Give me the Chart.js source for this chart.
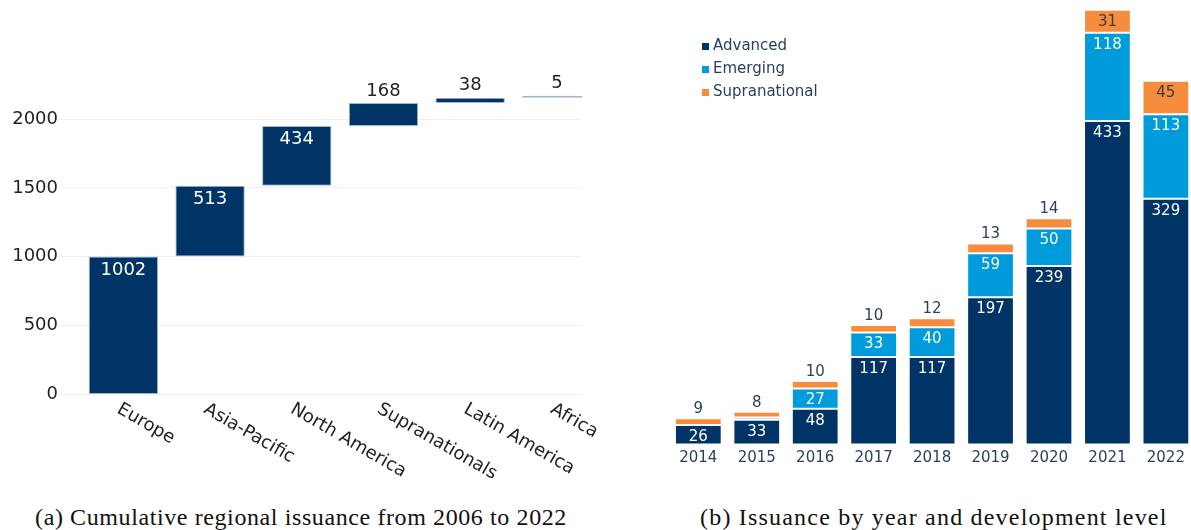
<!DOCTYPE html>
<html>
<head>
<meta charset="utf-8">
<script src="https://cdn.jsdelivr.net/npm/chart.js@4.4.0/dist/chart.umd.min.js"></script>
<style>
  html, body { margin: 0; width: 1191px; height: 530px; overflow: hidden; background: #fff; }
  #regional { position: absolute; left: 0; top: 0; }
  #yearly { position: absolute; left: 660px; top: 0; }
  .caption { position: absolute; top: 505px; line-height: 24px; font-family: "Liberation Serif", serif; font-size: 24px; color: #111; text-align: center; white-space: nowrap; }
</style>
</head>
<body>
<canvas id="regional" width="620" height="480"></canvas>
<canvas id="yearly" width="531" height="480"></canvas>
<div class="caption" style="left:0;width:602px;letter-spacing:0.6px">(a) Cumulative regional issuance from 2006 to 2022</div>
<div class="caption" style="left:700px;width:462px;letter-spacing:1.2px">(b) Issuance by year and development level</div>
<script>
// cumulative issuance by region, 2006-2022
const regions = ['Europe', 'Asia-Pacific', 'North America', 'Supranationals', 'Latin America', 'Africa']
const regionTotals = [1002, 513, 434, 168, 38, 5]
const regionTicks = [0, 500, 1000, 1500, 2000]

// issuance per year split by development level
const years = ['2014', '2015', '2016', '2017', '2018', '2019', '2020', '2021', '2022']
const advanced = [26, 33, 48, 117, 117, 197, 239, 433, 329]
const emerging = [0, 3, 27, 33, 40, 59, 50, 118, 113]
const supranational = [9, 8, 10, 10, 12, 13, 14, 31, 45]

const navy = '#003366'
const sky = '#009bdb'
const orange = '#f68d3c'
const slate = '#2a3f5f'

// value labels: inside the top of a segment when it fits, above the stack otherwise
const barText = {
  id: 'barText',
  afterDatasetsDraw(chart, args, opts) {
    const ctx = chart.ctx
    const last = chart.data.datasets.length - 1
    ctx.save()
    ctx.font = `${opts.size}px "DejaVu Sans"`
    ctx.textAlign = 'center'
    ctx.textBaseline = 'middle'
    chart.data.datasets.forEach((ds, di) => {
      chart.getDatasetMeta(di).data.forEach((bar, i) => {
        const value = ds.values[i]
        if (!value) return
        const top = Math.min(bar.y, bar.base)
        const h = Math.abs(bar.base - bar.y)
        if (h >= opts.minInside || (di < last && h >= opts.minShrunk)) {
          ctx.fillStyle = opts.insideColors[di]
          ctx.fillText(value, bar.x, top + opts.insideGap)
        } else if (di === last) {
          ctx.fillStyle = opts.outsideColor
          ctx.fillText(value, bar.x, top - opts.outsideGap)
        }
      })
    })
    ctx.restore()
  }
}

// category names slanting down to the right under each bar
const slantedLabels = {
  id: 'slantedLabels',
  afterDraw(chart, args, opts) {
    const ctx = chart.ctx
    const x = chart.scales.x
    ctx.save()
    ctx.font = '18px "DejaVu Sans"'
    ctx.fillStyle = '#222'
    ctx.textBaseline = 'middle'
    opts.labels.forEach((label, i) => {
      ctx.save()
      ctx.translate(x.getPixelForValue(i) - 5, chart.chartArea.bottom + 13.5)
      ctx.rotate(Math.PI / 6)
      ctx.fillText(label, 0, 0)
      ctx.restore()
    })
    ctx.restore()
  }
}

// small legend sitting inside the plot, top left
const sideLegend = {
  id: 'sideLegend',
  afterDraw(chart, args, opts) {
    const ctx = chart.ctx
    ctx.save()
    ctx.font = '15px "DejaVu Sans"'
    ctx.textBaseline = 'middle'
    chart.data.datasets.forEach((ds, i) => {
      const y = opts.top + i * opts.rowGap
      ctx.fillStyle = ds.backgroundColor
      ctx.fillRect(opts.left, y - 3.5, 7, 7)
      ctx.fillStyle = slate
      ctx.fillText(ds.label, opts.left + 11, y)
    })
    ctx.restore()
  }
}

let running = 0
const steps = regionTotals.map((v, i) => {
  const bar = { x: i, y: [running, running + v] }
  running += v
  return bar
})

new Chart(document.getElementById('regional').getContext('2d'), {
  type: 'bar',
  data: {
    datasets: [{
      label: 'Issuance',
      data: steps,
      values: regionTotals,
      backgroundColor: navy,
      borderColor: '#a3b6cf',
      borderWidth: 1,
      borderSkipped: false,
      minBarLength: 2,
      barPercentage: 0.8,
      categoryPercentage: 1
    }]
  },
  options: {
    responsive: false,
    animation: false,
    layout: { padding: { top: 91.5, right: 38, left: 0, bottom: 0 } },
    scales: {
      x: {
        type: 'linear',
        offset: false,
        min: -0.731,
        max: 5.29,
        afterBuildTicks: (scale) => { scale.ticks = regions.map((_, i) => ({ value: i })) },
        grid: { display: false },
        border: { display: false },
        ticks: { display: false },
        afterFit: (scale) => { scale.height = 85.5 }
      },
      y: {
        min: 0,
        max: 2200,
        afterBuildTicks: (scale) => { scale.ticks = regionTicks.map(v => ({ value: v })) },
        grid: { color: '#edf1f7', drawTicks: false },
        border: { display: false },
        ticks: { padding: 2, color: '#222', font: { family: 'DejaVu Sans', size: 18 }, callback: (v) => String(v) },
        afterFit: (scale) => { scale.width = 60 }
      }
    },
    plugins: {
      legend: { display: false },
      tooltip: { enabled: false },
      barText: { size: 18, minInside: 30, minShrunk: 12, insideGap: 13.5, outsideGap: 12, insideColors: ['#fff'], outsideColor: '#222' },
      slantedLabels: { labels: regions }
    }
  },
  plugins: [barText, slantedLabels]
})

const series = [
  { label: 'Advanced', values: advanced, color: navy },
  { label: 'Emerging', values: emerging, color: sky },
  { label: 'Supranational', values: supranational, color: orange }
]

new Chart(document.getElementById('yearly').getContext('2d'), {
  type: 'bar',
  data: {
    datasets: series.map(s => ({
      label: s.label,
      data: s.values.map((v, i) => ({ x: i, y: v })),
      values: s.values,
      backgroundColor: s.color,
      borderColor: 'rgba(255,255,255,0.5)',
      borderWidth: 1,
      borderSkipped: false,
      barPercentage: 0.8,
      categoryPercentage: 1
    }))
  },
  options: {
    responsive: false,
    animation: false,
    layout: { padding: { top: 0, right: 0, left: 9.1, bottom: 0 } },
    scales: {
      x: {
        type: 'linear',
        offset: false,
        stacked: true,
        min: -0.5,
        max: 8.43,
        afterBuildTicks: (scale) => { scale.ticks = years.map((_, i) => ({ value: i })) },
        grid: { display: false },
        border: { display: false },
        ticks: { padding: -3, color: slate, font: { family: 'DejaVu Sans', size: 15 }, callback: (v) => years[v] },
        afterFit: (scale) => { scale.height = 35.5 }
      },
      y: { stacked: true, display: false, min: 0, max: 595 }
    },
    plugins: {
      legend: { display: false },
      tooltip: { enabled: false },
      barText: { size: 15, minInside: 20, minShrunk: 12, insideGap: 12, outsideGap: 9, insideColors: ['#fff', '#fff', '#3d3d3d'], outsideColor: slate },
      sideLegend: { left: 42, top: 46.5, rowGap: 23 }
    }
  },
  plugins: [barText, sideLegend]
})
</script>
</body>
</html>
